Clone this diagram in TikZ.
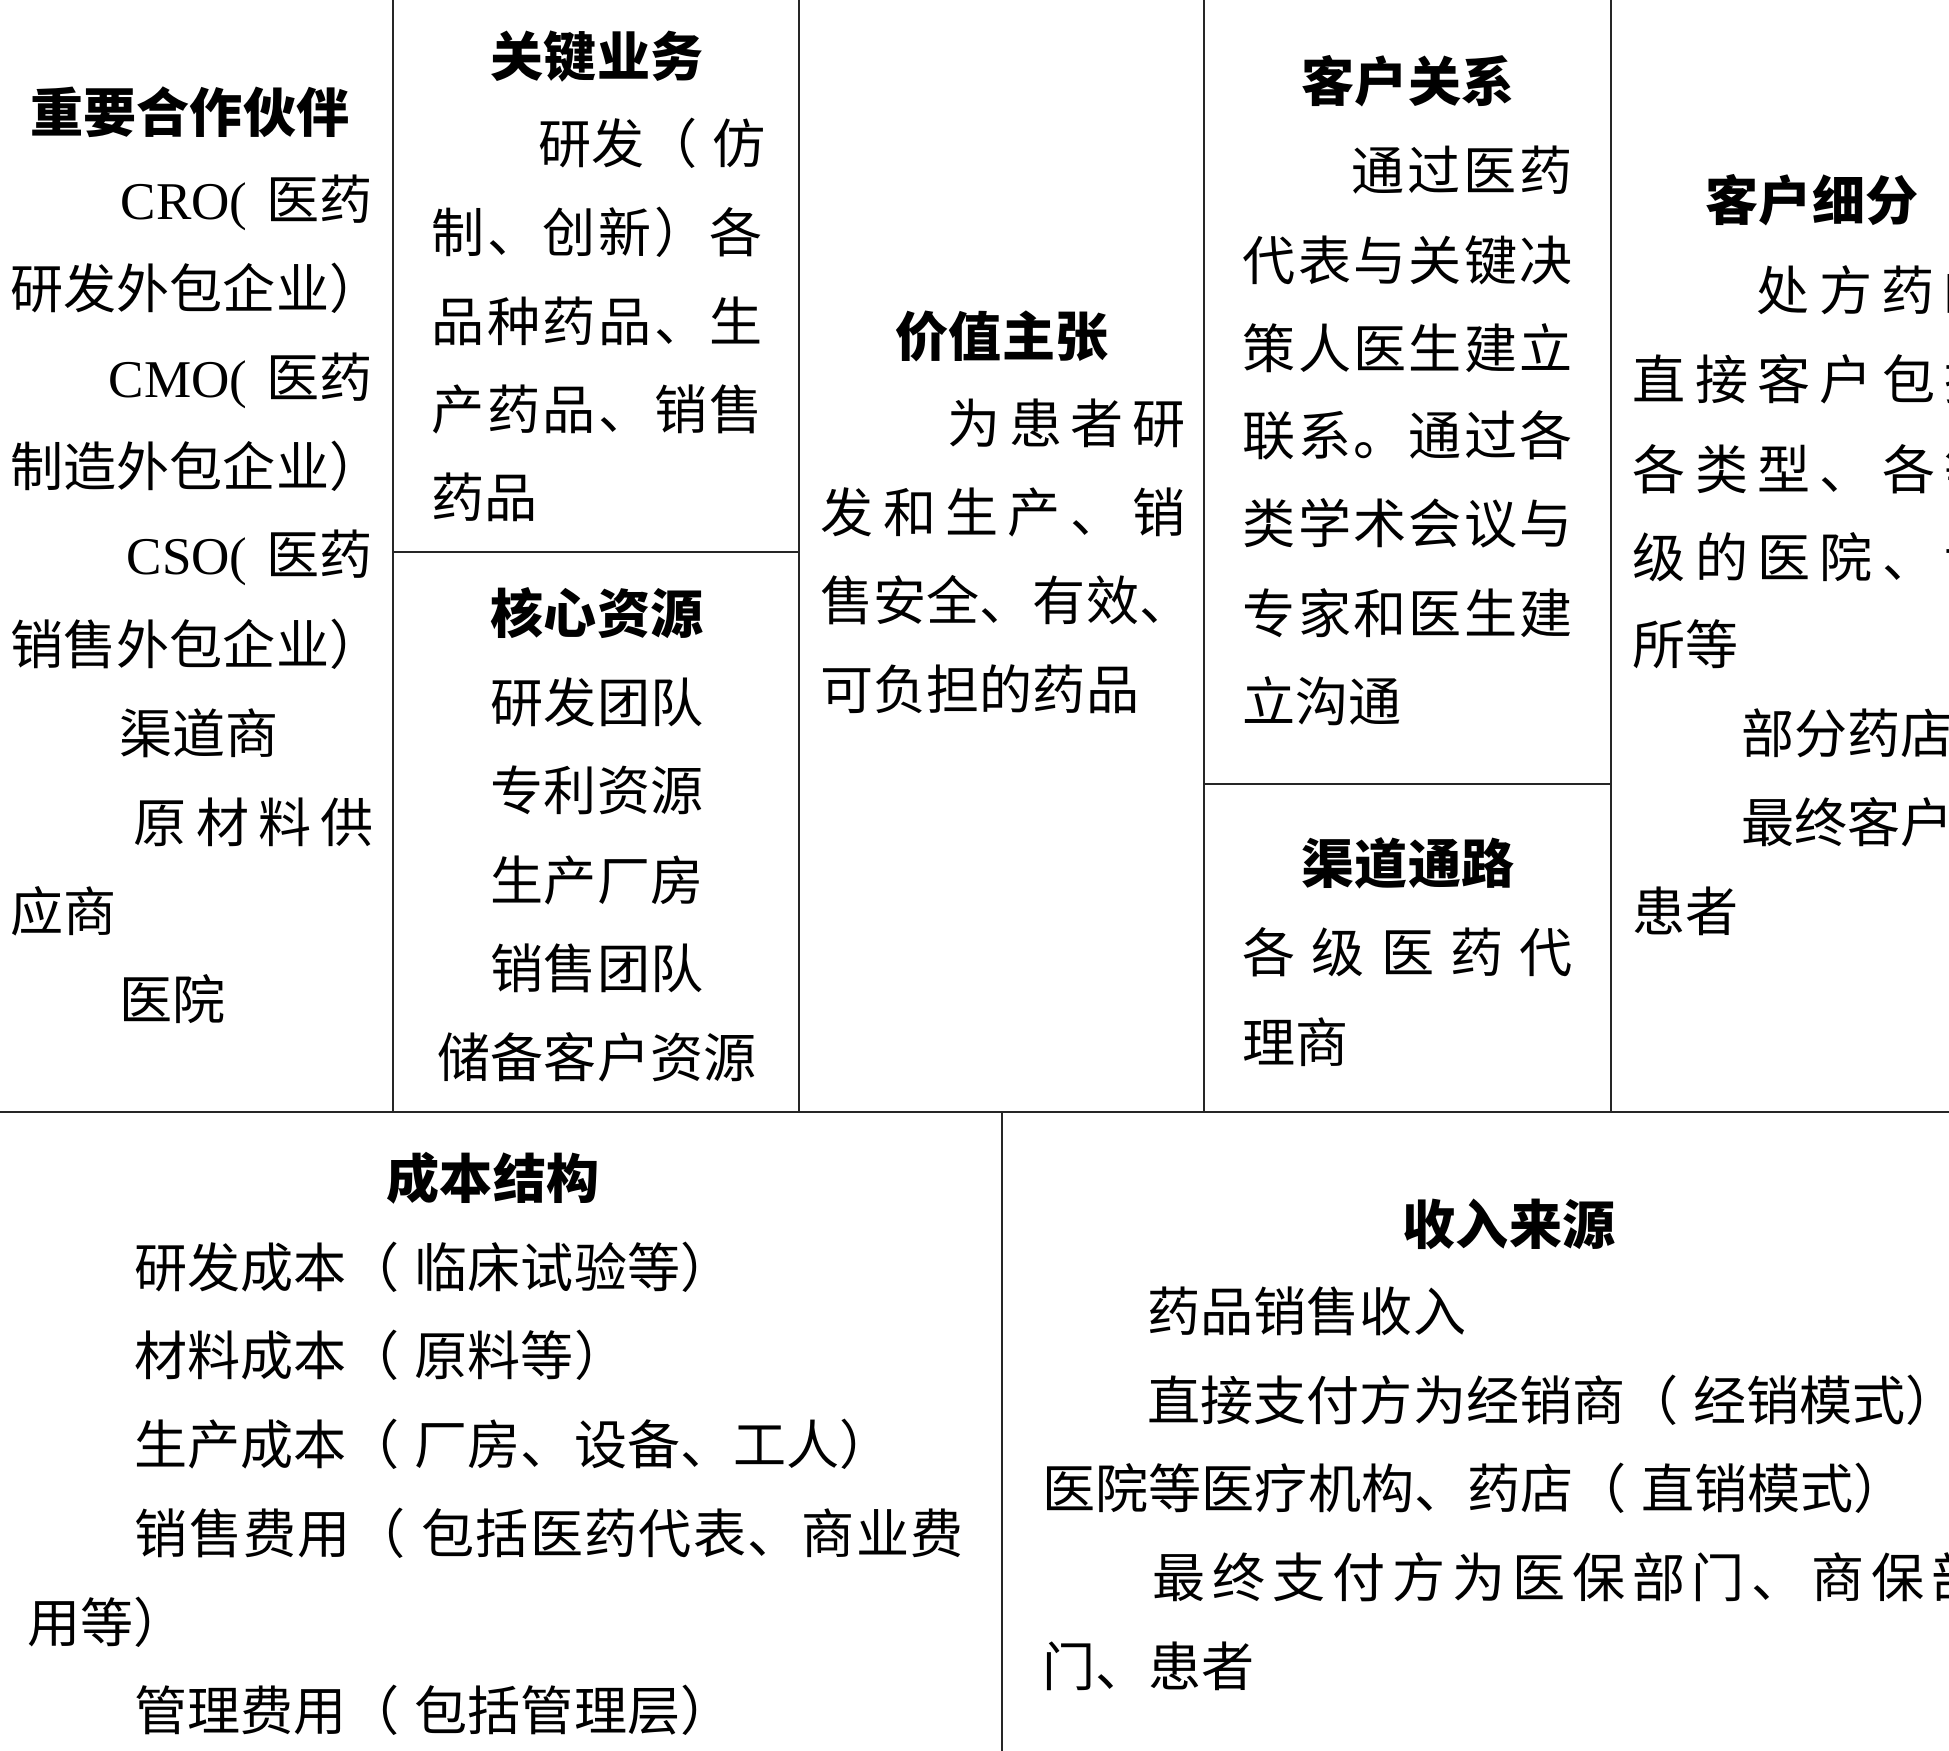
\documentclass[tikz,border=0pt]{standalone}
\usepackage{fontspec}
\setmainfont{Noto Sans CJK SC}[Kerning=Off]
\newfontfamily\latinrm{Liberation Serif}

% spread the characters of one line over a given width
\newcommand\spreadto[2]{\makebox[#1][s]{\spreadfirst#2\relax}}
\def\spreadfirst#1{#1\spreadrest}
\def\spreadrest#1{\ifx\relax#1\else\hfill#1\expandafter\spreadrest\fi}
% full-width brackets
\newcommand\lp{\makebox[1.28em][l]{（}}
\newcommand\rp{\makebox[1em][l]{）}}

\tikzset{
  cell/.style={draw=black!85, line width=0.7pt},
  title/.style={font=\fontsize{15.1pt}{18pt}\selectfont\bfseries, inner sep=0pt, text height=13.3pt, text depth=1.8pt},
  txt/.style={anchor=west, inner sep=0pt, text height=13.3pt, text depth=1.8pt},
}

\begin{document}
\begin{tikzpicture}[x=0.1mm, y=-0.1mm, font=\fontsize{15.1pt}{18pt}\selectfont]
  \useasboundingbox (0,0) rectangle (1949,1751);
  \clip (0,0) rectangle (1949,1751);
  % Grid of the canvas
  \draw[cell] (0,1112) -- (1949,1112);
  \draw[cell] (393,0) -- (393,1112);
  \draw[cell] (799,0) -- (799,1112);
  \draw[cell] (1204,0) -- (1204,1112);
  \draw[cell] (1611,0) -- (1611,1112);
  \draw[cell] (393,552) -- (799,552);
  \draw[cell] (1204,784) -- (1611,784);
  \draw[cell] (1002,1112) -- (1002,1751);
  % Key partners
  \node[title] (kp) at (190,112) {重要合作伙伴};
  \node[txt, anchor=east] (kp1) at (373,199) {{\latinrm CRO(}\hspace{0.35em}医药};
  \node[txt] (kp2) at (10,288) {研发外包企业\rp};
  \node[txt, anchor=east] (kp3) at (373,377) {{\latinrm CMO(}\hspace{0.35em}医药};
  \node[txt] (kp4) at (10,466) {制造外包企业\rp};
  \node[txt, anchor=east] (kp5) at (373,554) {{\latinrm CSO(}\hspace{0.35em}医药};
  \node[txt] (kp6) at (10,644) {销售外包企业\rp};
  \node[txt] (kp7) at (119,733) {渠道商};
  \node[txt] (kp8) at (133,822) {\spreadto{24mm}{原材料供}};
  \node[txt] (kp9) at (10,911) {应商};
  \node[txt] (kp10) at (119,999) {医院};
  % Key activities
  \node[title] (ka) at (597,56) {关键业务};
  \node[txt] (ka1) at (538,143) {\spreadto{22.4mm}{研发\lp 仿}};
  \node[txt] (ka2) at (431,232) {\spreadto{33.1mm}{制、创新\rp 各}};
  \node[txt] (ka3) at (431,321) {\spreadto{33.1mm}{品种药品、生}};
  \node[txt] (ka4) at (431,409) {\spreadto{33.1mm}{产药品、销售}};
  \node[txt] (ka5) at (431,497) {药品};
  % Key resources
  \node[title] (kr) at (597,613) {核心资源};
  \node[txt, anchor=center] (kr1) at (597,702) {研发团队};
  \node[txt, anchor=center] (kr2) at (597,790) {专利资源};
  \node[txt, anchor=center] (kr3) at (597,880) {生产厂房};
  \node[txt, anchor=center] (kr4) at (597,968) {销售团队};
  \node[txt, anchor=center] (kr5) at (597,1057) {储备客户资源};
  % Value proposition
  \node[title] (vp) at (1002,336) {价值主张};
  \node[txt] (vp1) at (947,423) {\spreadto{23.8mm}{为患者研}};
  \node[txt] (vp2) at (820,512) {\spreadto{36.5mm}{发和生产、销}};
  \node[txt] (vp3) at (820,600) {售安全、有效、};
  \node[txt] (vp4) at (820,689) {可负担的药品};
  % Customer relationships
  \node[title] (cr) at (1408,81) {客户关系};
  \node[txt] (cr1) at (1351,170) {\spreadto{22.1mm}{通过医药}};
  \node[txt] (cr2) at (1242,260) {\spreadto{33mm}{代表与关键决}};
  \node[txt] (cr3) at (1242,348) {\spreadto{33mm}{策人医生建立}};
  \node[txt] (cr4) at (1242,435) {\spreadto{33mm}{联系。通过各}};
  \node[txt] (cr5) at (1242,523) {\spreadto{33mm}{类学术会议与}};
  \node[txt] (cr6) at (1242,613) {\spreadto{33mm}{专家和医生建}};
  \node[txt] (cr7) at (1242,701) {立沟通};
  % Channels
  \node[title] (ch) at (1408,863) {渠道通路};
  \node[txt] (ch1) at (1242,952) {\spreadto{33mm}{各级医药代}};
  \node[txt] (ch2) at (1242,1042) {理商};
  % Customer segments
  \node[title] (cs) at (1812,200) {客户细分};
  \node[txt] (cs1) at (1756,290) {\spreadto{24mm}{处方药的}};
  \node[txt] (cs2) at (1632,379) {\spreadto{36.5mm}{直接客户包括}};
  \node[txt] (cs3) at (1632,469) {\spreadto{36.5mm}{各类型、各等}};
  \node[txt] (cs4) at (1632,557) {\spreadto{36.5mm}{级的医院、诊}};
  \node[txt] (cs5) at (1632,644) {所等};
  \node[txt] (cs6) at (1741,733) {部分药店};
  \node[txt] (cs7) at (1741,822) {最终客户为};
  \node[txt] (cs8) at (1632,911) {患者};
  % Cost structure
  \node[title] (cost) at (493,1178) {成本结构};
  \node[txt] (cost1) at (134,1267) {研发成本\lp 临床试验等\rp};
  \node[txt] (cost2) at (134,1355) {材料成本\lp 原料等\rp};
  \node[txt] (cost3) at (134,1444) {生产成本\lp 厂房、设备、工人\rp};
  \node[txt] (cost4) at (134,1533) {\spreadto{82.9mm}{销售费用\lp 包括医药代表、商业费}};
  \node[txt] (cost5) at (27,1622) {用等\rp};
  \node[txt] (cost6) at (134,1710) {管理费用\lp 包括管理层\rp};
  % Revenue streams
  \node[title] (rev) at (1509,1224) {收入来源};
  \node[txt] (rev1) at (1147,1311) {药品销售收入};
  \node[txt] (rev2) at (1147,1400) {\spreadto{79.2mm}{直接支付方为经销商\lp 经销模式\rp}};
  \node[txt] (rev3) at (1042,1488) {医院等医疗机构、药店\lp 直销模式\rp};
  \node[txt] (rev4) at (1152,1577) {\spreadto{83.2mm}{最终支付方为医保部门、商保部}};
  \node[txt] (rev5) at (1042,1666) {门、患者};
\end{tikzpicture}
\end{document}
